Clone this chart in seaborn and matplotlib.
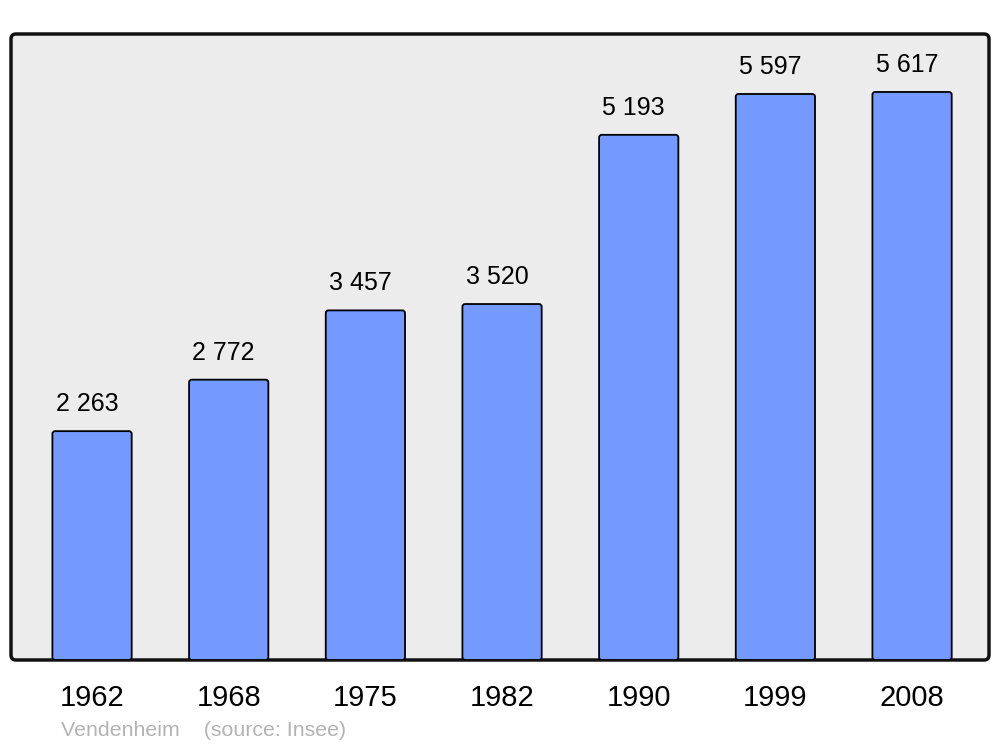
import matplotlib
matplotlib.use("Agg")
import matplotlib.pyplot as plt
import seaborn as sns
from matplotlib.patches import FancyBboxPatch
from matplotlib.transforms import IdentityTransform, offset_copy

years = ["1962", "1968", "1975", "1982", "1990", "1999", "2008"]
population = [2263, 2772, 3457, 3520, 5193, 5597, 5617]
labels = ["2 263", "2 772", "3 457", "3 520", "5 193", "5 597", "5 617"]

sns.set_style("white")
plt.rcParams["font.family"] = ["Liberation Sans", "DejaVu Sans"]

fig = plt.figure(figsize=(10, 7.47), dpi=100)
ax = fig.add_axes([0.011, 87 / 747, 0.978, 626 / 747])
ax.patch.set_visible(False)
ax.set_zorder(2)

# rounded frame
frame = FancyBboxPatch((11, 87), 978, 626, boxstyle="round,pad=0,rounding_size=5",
                       transform=IdentityTransform(), facecolor="#ececec",
                       edgecolor="#111111", linewidth=2.5, zorder=0)
fig.patches.append(frame)

sns.barplot(x=years, y=population, color="#7499ff", saturation=1, width=0.58,
            edgecolor="black", linewidth=1.3, ax=ax, zorder=2)

XMIN, XMAX, YMAX = -0.593, 6.563, 6190
aspect = (YMAX / 626) / ((XMAX - XMIN) / 978)

# round bar corners
for p in list(ax.patches):
    x, y, w, h = p.get_x(), p.get_y(), p.get_width(), p.get_height()
    rb = FancyBboxPatch((x, y), w, h, boxstyle="round,pad=0,rounding_size=0.02",
                        mutation_aspect=aspect,
                        facecolor="#7499ff", edgecolor="black", linewidth=1.3, zorder=2)
    p.remove()
    ax.add_patch(rb)

ax.set_xlim(XMIN, XMAX)
ax.set_ylim(0, YMAX)
for s in ax.spines.values():
    s.set_visible(False)
ax.set_yticks([])
ax.tick_params(axis="x", length=0, pad=17, labelsize=21, labelcolor="black")
ax.set_xlabel("")

trans = offset_copy(ax.transData, fig=fig, x=-5, y=15, units="dots")
for i, (v, lab) in enumerate(zip(population, labels)):
    ax.text(i, v, lab, ha="center", va="bottom", fontsize=18, color="black",
            transform=trans)

fig.text(61 / 1000, 1 - 731 / 747, "Vendenheim    (source: Insee)", fontsize=15.4,
         color="#b3b3b3", ha="left", va="center")

fig.savefig("out.png", dpi=100)
